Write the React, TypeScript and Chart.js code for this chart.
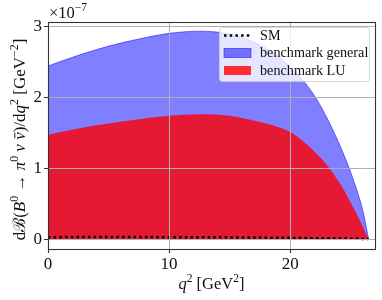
import React, { useEffect, useRef } from "react";
import { Chart, registerables } from "chart.js";

Chart.register(...registerables);

// q^2 grid in GeV^2
const qSquared = [0, 2.5, 5, 7.5, 10, 12.5, 15, 17.5, 19, 20, 21, 22, 23, 24, 24.5, 25, 25.5, 26, 26.47];
// differential branching ratios in units of 1e-7 GeV^-2
const benchmarkGeneral = [2.44, 2.59, 2.72, 2.82, 2.9, 2.93, 2.89, 2.74, 2.58, 2.43, 2.25, 2.02, 1.72, 1.36, 1.16, 0.94, 0.69, 0.4, 0];
const benchmarkLU = [1.47, 1.56, 1.63, 1.69, 1.74, 1.76, 1.74, 1.65, 1.58, 1.51, 1.39, 1.235, 1.05, 0.81, 0.67, 0.51, 0.35, 0.17, 0];
const smValues = [0.027, 0.028, 0.028, 0.028, 0.027, 0.026, 0.024, 0.021, 0.019, 0.017, 0.015, 0.013, 0.011, 0.008, 0.007, 0.005, 0.004, 0.002, 0];
const xTicks = [0, 10, 20];
const yTicks = [0, 1, 2, 3];
const legendLabels = ["SM", "benchmark general", "benchmark LU"];

const FONT = '"Liberation Serif", "DejaVu Serif", serif';
const BLUE_FILL = "rgba(0,0,255,0.5)";
const RED_FILL = "rgba(255,0,0,0.8)";

type Seg = { t: string; it?: boolean; sup?: boolean; bar?: boolean };

function drawRich(ctx: CanvasRenderingContext2D, segs: Seg[], x: number, y: number, size: number, rotate: boolean, align: "center" | "left") {
  const fontFor = (s: Seg) => `${s.it ? "italic " : ""}${s.sup ? size * 0.7 : size}px ${FONT}`;
  const widths = segs.map((s) => {
    ctx.font = fontFor(s);
    return ctx.measureText(s.t).width;
  });
  const total = widths.reduce((a, b) => a + b, 0);
  ctx.save();
  ctx.translate(x, y);
  if (rotate) ctx.rotate(-Math.PI / 2);
  ctx.textBaseline = "alphabetic";
  ctx.textAlign = "left";
  ctx.fillStyle = "#111";
  ctx.strokeStyle = "#111";
  let cx = align === "center" ? -total / 2 : 0;
  segs.forEach((s, i) => {
    ctx.font = fontFor(s);
    const dy = s.sup ? -size * 0.42 : 0;
    ctx.fillText(s.t, cx, dy);
    if (s.bar) {
      ctx.lineWidth = size * 0.055;
      ctx.beginPath();
      ctx.moveTo(cx + widths[i] * 0.2, -size * 0.6);
      ctx.lineTo(cx + widths[i] * 0.95, -size * 0.6);
      ctx.stroke();
    }
    cx += widths[i];
  });
  ctx.restore();
}

const yTitle: Seg[] = [
  { t: "dℬ(" },
  { t: "B", it: true },
  { t: "0", sup: true },
  { t: " → " },
  { t: "π", it: true },
  { t: "0", sup: true },
  { t: " " },
  { t: "ν", it: true },
  { t: " " },
  { t: "ν", it: true, bar: true },
  { t: ")/d" },
  { t: "q", it: true },
  { t: "2", sup: true },
  { t: " [GeV" },
  { t: "−2", sup: true },
  { t: "]" },
];
const xTitle: Seg[] = [
  { t: "q", it: true },
  { t: "2", sup: true },
  { t: " [GeV" },
  { t: "2", sup: true },
  { t: "]" },
];
const offsetText: Seg[] = [{ t: "×10" }, { t: "−7", sup: true }];

const decorPlugin = {
  id: "decor",
  afterDatasetsDraw(chart: any) {
    const { ctx, chartArea: a, scales } = chart;
    const xs = scales.x;
    const ys = scales.y;
    ctx.save();
    ctx.strokeStyle = "#b0b0b0";
    ctx.lineWidth = 1;
    xTicks.forEach((v) => {
      const px = Math.round(xs.getPixelForValue(v)) + 0.5;
      ctx.beginPath();
      ctx.moveTo(px, a.top);
      ctx.lineTo(px, a.bottom);
      ctx.stroke();
    });
    yTicks.forEach((v) => {
      const py = Math.round(ys.getPixelForValue(v)) + 0.5;
      ctx.beginPath();
      ctx.moveTo(a.left, py);
      ctx.lineTo(a.right, py);
      ctx.stroke();
    });
    // frame
    ctx.strokeStyle = "#333";
    ctx.lineWidth = 1.1;
    ctx.strokeRect(Math.round(a.left) + 0.5, Math.round(a.top) + 0.5, Math.round(a.right - a.left), Math.round(a.bottom - a.top));
    // tick marks
    ctx.beginPath();
    xTicks.forEach((v) => {
      const px = Math.round(xs.getPixelForValue(v)) + 0.5;
      ctx.moveTo(px, a.bottom);
      ctx.lineTo(px, a.bottom + 4);
    });
    yTicks.forEach((v) => {
      const py = Math.round(ys.getPixelForValue(v)) + 0.5;
      ctx.moveTo(a.left, py);
      ctx.lineTo(a.left - 4, py);
    });
    ctx.stroke();
    ctx.restore();
  },
  afterDraw(chart: any) {
    const { ctx, chartArea: a } = chart;
    // axis titles
    drawRich(ctx, yTitle, 25, (a.top + a.bottom) / 2 + 4, 17, true, "center");
    drawRich(ctx, xTitle, (a.left + a.right) / 2, 289, 16.5, false, "center");
    drawRich(ctx, offsetText, a.left + 1, 18, 16.5, false, "left");

    // legend
    const lw = 150;
    const lh = 54;
    const lx = a.right - 6 - lw;
    const ly = a.top + 5;
    ctx.save();
    ctx.beginPath();
    (ctx as any).roundRect(lx + 0.5, ly + 0.5, lw, lh, 3);
    ctx.fillStyle = "rgba(255,255,255,0.8)";
    ctx.fill();
    ctx.strokeStyle = "rgba(204,204,204,0.8)";
    ctx.lineWidth = 1;
    ctx.stroke();

    const hx = lx + 5;
    const hw = 27;
    const rows = [ly + 8.5, ly + 26, ly + 43.5];
    // SM handle
    ctx.strokeStyle = "#000";
    ctx.lineWidth = 2.5;
    ctx.setLineDash([2.5, 3.2]);
    ctx.beginPath();
    ctx.moveTo(hx, rows[0]);
    ctx.lineTo(hx + hw, rows[0]);
    ctx.stroke();
    ctx.setLineDash([]);
    // patches
    ctx.fillStyle = BLUE_FILL;
    ctx.fillRect(hx, rows[1] - 4.5, hw, 9);
    ctx.strokeStyle = BLUE_FILL;
    ctx.lineWidth = 1;
    ctx.strokeRect(hx, rows[1] - 4.5, hw, 9);
    ctx.fillStyle = RED_FILL;
    ctx.fillRect(hx, rows[2] - 4.5, hw, 9);

    ctx.fillStyle = "#111";
    ctx.font = `14.2px ${FONT}`;
    ctx.textBaseline = "middle";
    ctx.textAlign = "left";
    legendLabels.forEach((t, i) => {
      ctx.fillText(t, hx + hw + 9, rows[i] + 0.5);
    });
    ctx.restore();
  },
};

export default function App() {
  const ref = useRef<HTMLCanvasElement | null>(null);
  useEffect(() => {
    if (!ref.current) return;
    const pts = (arr: number[]) => qSquared.map((q, i) => ({ x: q, y: arr[i] }));
    const chart = new Chart(ref.current, {
      type: "line",
      data: {
        datasets: [
          {
            label: legendLabels[0],
            data: pts(smValues),
            borderColor: "#000",
            borderWidth: 2.5,
            borderDash: [2.5, 3.2],
            pointRadius: 0,
            fill: false,
            order: 0,
          },
          {
            label: legendLabels[2],
            data: pts(benchmarkLU),
            borderColor: RED_FILL,
            backgroundColor: RED_FILL,
            borderWidth: 0,
            pointRadius: 0,
            fill: "origin",
            cubicInterpolationMode: "monotone",
            order: 1,
          },
          {
            label: legendLabels[1],
            data: pts(benchmarkGeneral),
            borderColor: BLUE_FILL,
            backgroundColor: BLUE_FILL,
            borderWidth: 1,
            pointRadius: 0,
            fill: "origin",
            cubicInterpolationMode: "monotone",
            order: 2,
          },
        ],
      },
      options: {
        animation: false,
        responsive: false,
        layout: { padding: { top: 22, right: 7, left: 0, bottom: 0 } },
        plugins: { legend: { display: false }, tooltip: { enabled: false } },
        scales: {
          x: {
            type: "linear",
            min: 0,
            max: 27,
            grid: { display: false, drawTicks: false },
            border: { display: false },
            ticks: { font: { family: FONT, size: 17 }, color: "#111", padding: 5, maxRotation: 0 },
            afterBuildTicks: (s: any) => {
              s.ticks = xTicks.map((v) => ({ value: v }));
            },
            afterFit: (s: any) => {
              s.height = 51;
            },
          },
          y: {
            type: "linear",
            min: -0.14,
            max: 3.06,
            grid: { display: false, drawTicks: false },
            border: { display: false },
            ticks: { font: { family: FONT, size: 17 }, color: "#111", padding: 6 },
            afterBuildTicks: (s: any) => {
              s.ticks = yTicks.map((v) => ({ value: v }));
            },
            afterFit: (s: any) => {
              s.width = 48;
            },
          },
        },
      },
      plugins: [decorPlugin],
    } as any);
    return () => chart.destroy();
  }, []);
  return (
    <div style={{ position: "absolute", left: 0, top: 0, width: 382, height: 300, background: "#fff" }}>
      <canvas ref={ref} width={382} height={300} />
    </div>
  );
}
